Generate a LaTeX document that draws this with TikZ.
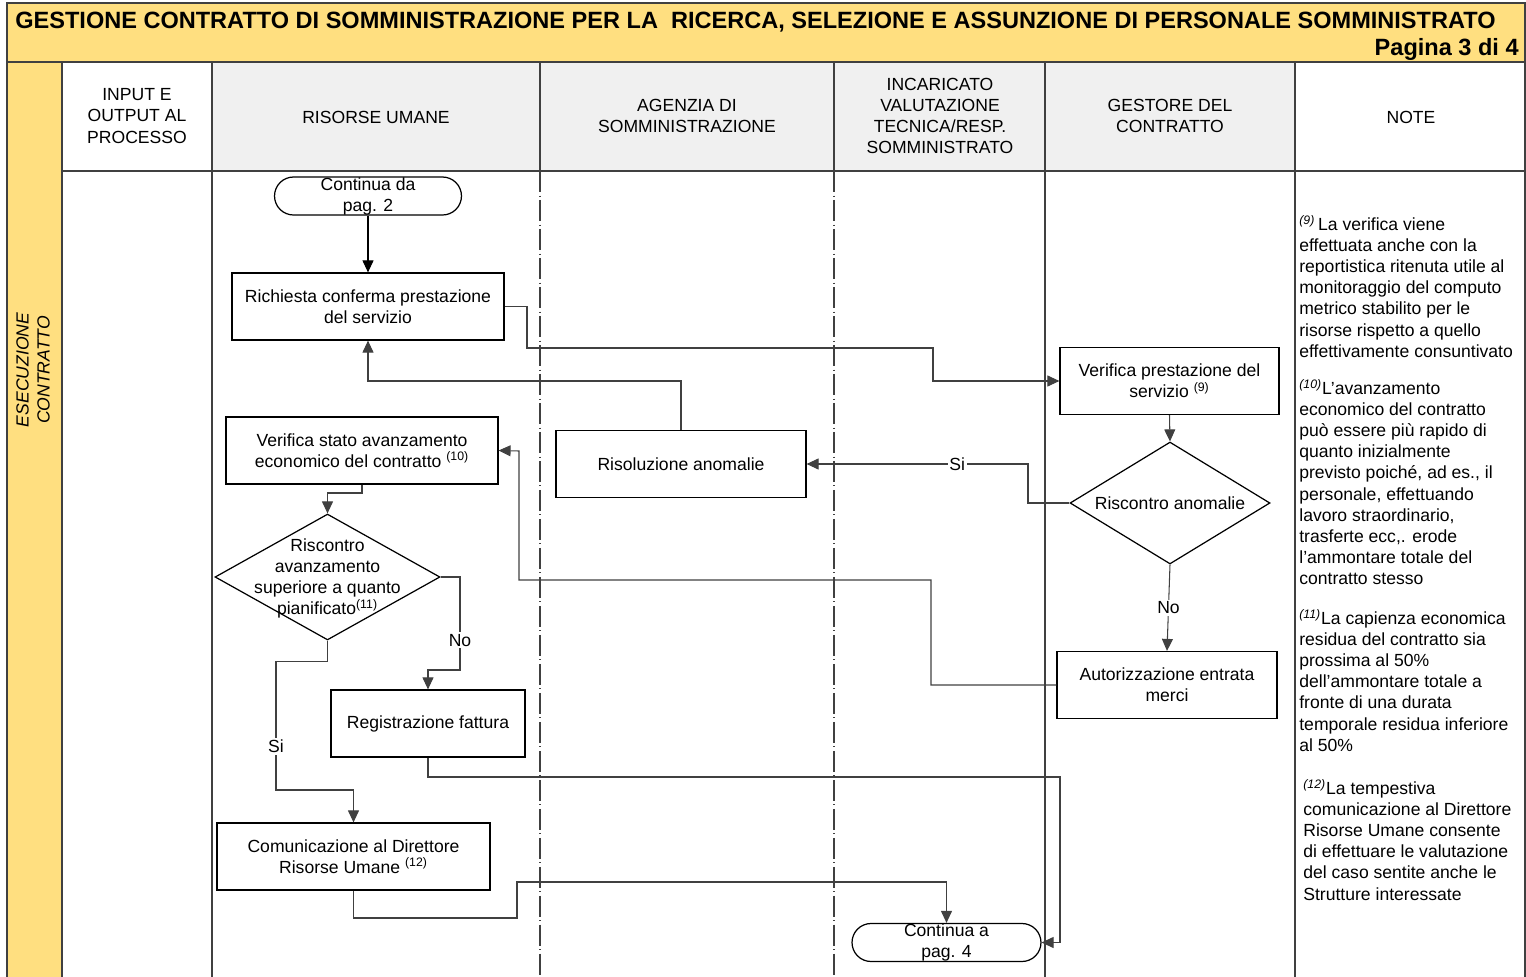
\documentclass[tikz,border=0pt]{standalone}
\usepackage{fontspec}
\setmainfont{Liberation Sans}
\usetikzlibrary{shapes.geometric, arrows.meta, calc}
\definecolor{headyellow}{RGB}{255,223,128}
\definecolor{headgray}{RGB}{240,240,240}
\definecolor{linegray}{RGB}{64,64,64}
\newcommand{\bodyfont}{\fontsize{10}{12}\selectfont}
\newcommand{\nrif}[1]{\textsuperscript{(#1)}}
\newcommand{\nnota}[1]{\textsuperscript{\textit{(#1)}}}
\tikzset{
  grid/.style={draw=linegray, line width=0.8pt},
  lanedash/.style={draw=linegray, line width=0.6pt, dash pattern=on 12pt off 2pt on 0.5pt off 2pt},
  head/.style={font=\bodyfont, align=center, inner sep=0pt},
  box/.style={draw, line width=0.7pt, minimum height=1.34cm, align=center, font=\bodyfont, inner sep=0pt},
  term/.style={draw, line width=0.7pt, rounded corners=0.38cm, minimum width=3.74cm, minimum height=0.76cm, inner sep=0pt, align=center, font=\bodyfont},
  decision/.style={draw, line width=0.7pt, diamond, inner sep=0pt},
  flow/.style={draw=linegray, line width=0.6pt, -{Triangle[length=2.4mm, width=2.2mm]}},
  lbl/.style={fill=white, inner sep=1pt, font=\bodyfont},
  note/.style={font=\bodyfont, align=left, anchor=north west, inner sep=0pt},
}
\begin{document}
\begin{tikzpicture}[x=0.02cm, y=-0.02cm]
  \useasboundingbox (0,0) rectangle (1526,977);
  % title band and left column
  \fill[headyellow] (7,3) rectangle (1526,62);
  \fill[headyellow] (7,62) rectangle (62,977);
  \fill[headgray] (212,62) rectangle (1295,171);
  \node[anchor=west, inner sep=0pt, font=\fontsize{13.4}{16}\selectfont\bfseries] (titolo) at (15,22)
    {GESTIONE CONTRATTO DI SOMMINISTRAZIONE PER LA\ \ RICERCA, SELEZIONE E ASSUNZIONE DI PERSONALE SOMMINISTRATO};
  \node[anchor=east, inner sep=0pt, font=\fontsize{13.4}{16}\selectfont\bfseries] (pagina) at (1519,49) {Pagina 3 di 4};
  % grid
  \draw[grid] (7,977) -- (7,3) -- (1525,3) -- (1525,977);
  \draw[grid] (7,62) -- (1525,62);
  \draw[grid] (62,171) -- (1525,171);
  \foreach \x in {62,212,1045,1295} \draw[grid] (\x,62) -- (\x,977);
  \foreach \x in {540,834} {
    \draw[grid] (\x,62) -- (\x,171);
    \draw[lanedash] (\x,171) -- (\x,977);
  }
  % lane headers
  \node[head] (hinput) at (137,116) {INPUT E\\OUTPUT AL\\PROCESSO};
  \node[head] (hru) at (376,117) {RISORSE UMANE};
  \node[head] (hagenzia) at (687,116) {AGENZIA DI\\SOMMINISTRAZIONE};
  \node[head] (hincaricato) at (940,116) {INCARICATO\\VALUTAZIONE\\TECNICA/RESP.\\SOMMINISTRATO};
  \node[head] (hgestore) at (1170,116) {GESTORE DEL\\CONTRATTO};
  \node[head] (hnote) at (1411,117) {NOTE};
  \node[head, rotate=90, font=\bodyfont\itshape] (fase) at (33,370) {ESECUZIONE\\CONTRATTO};
  % flow nodes
  \node[term] (cont2) at (368,196) {Continua da\\pag. 2};
  \node[box, minimum width=5.44cm] (richiesta) at (368,306.5) {Richiesta conferma prestazione\\del servizio};
  \node[box, minimum width=4.38cm] (verprest) at (1169.5,381) {Verifica prestazione del\\servizio \nrif{9}};
  \node[decision, minimum width=4cm, minimum height=2.44cm] (riscanom) at (1170,503) {};
  \node[font=\bodyfont, inner sep=0pt] at (riscanom) {Riscontro anomalie};
  \node[box, minimum width=5cm] (risol) at (681,464) {Risoluzione anomalie};
  \node[box, minimum width=5.44cm] (verstato) at (362,450.5) {Verifica stato avanzamento\\economico del contratto \nrif{10}};
  \node[decision, minimum width=4.5cm, minimum height=2.52cm] (riscav) at (327.5,577) {};
  \node[font=\bodyfont, align=center, inner sep=0pt] at (327.5,578.5) {Riscontro\\avanzamento\\superiore a quanto\\pianificato\nrif{11}};
  \node[box, minimum width=3.88cm] (regfatt) at (428,723.5) {Registrazione fattura};
  \node[box, minimum width=4.4cm] (autent) at (1167,685) {Autorizzazione entrata\\merci};
  \node[box, minimum width=5.46cm] (comdir) at (353.5,856.5) {Comunicazione al Direttore\\Risorse Umane \nrif{12}};
  \node[term, minimum width=3.78cm] (cont4) at (946.5,942.5) {Continua a\\pag. 4};
  % connectors
  \draw[flow, draw=black] (cont2) -- (richiesta);
  \draw[flow] (richiesta.east) -| (527,348) -| (933,381) -- (verprest.west);
  \draw[flow] (verprest.south) -- (riscanom.north);
  \draw[flow] (riscanom.west) -| (1028,464) -- node[lbl, pos=0.32] {Si} (risol.east);
  \draw[flow] (risol.north) |- (368,381) -- (richiesta.south);
  \draw[flow] (riscanom.south) -- node[lbl] {No} (autent.north);
  \draw[flow] (autent.west) -| (931,580) -| (519,451) -- (verstato.east);
  \draw[flow] (verstato.south) |- (327.5,493) -- (riscav.north);
  \draw[flow] (riscav.east) -| node[lbl, pos=0.84] {No} (460,670) -| (regfatt.north);
  \draw[flow] (riscav.south) -- ++(0,21) -| node[lbl, pos=0.83] {Si} (276,790) -| (comdir.north);
  \draw[flow] (regfatt.south) |- (1060,777) |- (cont4.east);
  \draw[flow] (comdir.south) |- (517,918) |- (946.5,882) -- (cont4.north);
  % notes
  \node[note] (nota9) at (1299,215) {\nnota{9}\,La verifica viene\\effettuata anche con la\\reportistica ritenuta utile al\\monitoraggio del computo\\metrico stabilito per le\\risorse rispetto a quello\\effettivamente consuntivato};
  \node[note] (nota10) at (1299,379) {\nnota{10}L'avanzamento\\economico del contratto\\può essere più rapido di\\quanto inizialmente\\previsto poiché, ad es., il\\personale, effettuando\\lavoro straordinario,\\trasferte ecc,. erode\\l'ammontare totale del\\contratto stesso};
  \node[note] (nota11) at (1299,609) {\nnota{11}La capienza economica\\residua del contratto sia\\prossima al 50\%\\dell'ammontare totale a\\fronte di una durata\\temporale residua inferiore\\al 50\%};
  \node[note] (nota12) at (1303,779) {\nnota{12}La tempestiva\\comunicazione al Direttore\\Risorse Umane consente\\di effettuare le valutazione\\del caso sentite anche le\\Strutture interessate};
\end{tikzpicture}
\end{document}
